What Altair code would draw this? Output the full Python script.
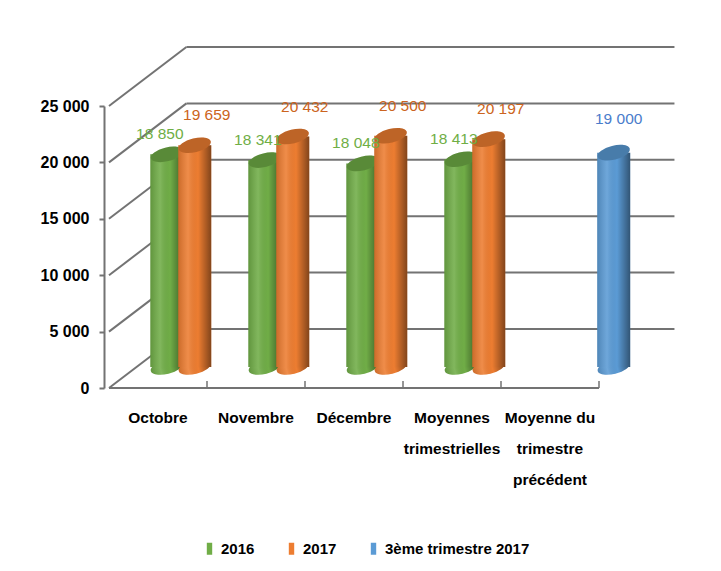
import altair as alt
import pandas as pd

# ---------------- data ----------------
categories = ["Octobre", "Novembre", "Décembre", "Moyennes\ntrimestrielles",
              "Moyenne du\ntrimestre\nprécédent"]
series = ["2016", "2017", "3ème trimestre 2017"]
values_2016 = [18850, 18341, 18048, 18413, None]
values_2017 = [19659, 20432, 20500, 20197, None]
values_t3 = [None, None, None, None, 19000]
y_ticks = [0, 5000, 10000, 15000, 20000, 25000]

bar_colors = ["#70AD47", "#ED7D31", "#5B9BD5"]
label_colors = ["#6FAE45", "#CC6420", "#4A7CCB"]

# ---------------- layout / style constants ----------------
FONT = "Liberation Sans, Arial, sans-serif"
GRID = "#737373"
DEPTH_X = 0.79          # back wall shift, in category units
DEPTH_PX = 59           # back wall shift, in pixels (upwards)
BACK_END = 5.77         # right end of back wall, category units
YSHIFT = -21            # cylinders sit a little inside the depth
BW = 33                 # cylinder width px
SLOT = {"2016": 0.09, "2017": 0.375, "3ème trimestre 2017": 0.65}
LBL_DX = {"2016": -7, "2017": 12, "3ème trimestre 2017": 5}
LBL_DY = {"2016": -41, "2017": -51, "3ème trimestre 2017": -55}

rows = []
for s, vals in zip(series, [values_2016, values_2017, values_t3]):
    for i, (c, v) in enumerate(zip(categories, vals)):
        if v is None:
            continue
        rows.append({"cat": c, "series": s, "v": v,
                     "pos": i + 0.5 + SLOT[s],
                     "label": f"{v:,}".replace(",", " ")})
df = pd.DataFrame(rows)
cats_df = pd.DataFrame({"cat": categories,
                        "center": [i + 0.5 for i in range(len(categories))]})
frame_df = pd.DataFrame({"v": y_ticks})
floor_df = pd.DataFrame({"v": [y_ticks[0]]})
bound_df = pd.DataFrame({"b": list(range(1, len(categories) + 1))})

xscale = alt.Scale(domain=[0, len(categories)], nice=False, zero=False)
yscale = alt.Scale(domain=[0, 25000], nice=False, zero=True)
YAX = alt.Axis(values=y_ticks, title=None, grid=False, domain=True,
               domainColor=GRID, domainWidth=2, ticks=True, tickSize=5,
               tickColor=GRID, tickWidth=2, labelFont=FONT, labelFontSize=16,
               labelFontWeight="bold", labelColor="black", labelPadding=10,
               labelExpr="replace(format(datum.value, ','), ',', ' ')")


def X(f):
    return alt.X(f, type="quantitative", scale=xscale, axis=None)


def Y(f="v"):
    return alt.Y(f, type="quantitative", scale=yscale, axis=YAX)


RECT = "M-0.45,-1L0.45,-1L0.45,1L-0.45,1Z"
ELL = "M-1,0A1,0.42,0,1,0,1,0A1,0.42,0,1,0,-1,0Z"
LEGEND = alt.Legend(title=None, orient="none", legendX=98, legendY=435,
                    direction="horizontal", columns=3, symbolType=RECT,
                    symbolSize=144, symbolStrokeWidth=0, labelFont=FONT,
                    labelFontSize=15, labelFontWeight="bold",
                    labelColor="black", columnPadding=29, labelOffset=4,
                    labelLimit=300)
COLOR = alt.Color("series:N", scale=alt.Scale(domain=series, range=bar_colors),
                  legend=LEGEND)

GRAD = {"gradient": "linear", "x1": 0, "x2": 1, "y1": 0, "y2": 0,
        "stops": [{"offset": 0, "color": "rgba(0,0,0,0.14)"},
                  {"offset": 0.3, "color": "rgba(255,255,255,0.12)"},
                  {"offset": 0.6, "color": "rgba(0,0,0,0)"},
                  {"offset": 1, "color": "rgba(0,0,0,0.45)"}]}

# ---------------- frame ----------------
diag = alt.Chart(frame_df).mark_rule(color=GRID, strokeWidth=2,
                                     y2Offset=-DEPTH_PX).encode(
    x=alt.datum(0), x2=alt.datum(DEPTH_X), y=Y(), y2=alt.Y2("v"))
back = alt.Chart(frame_df).mark_rule(color=GRID, strokeWidth=2,
                                     yOffset=-DEPTH_PX,
                                     y2Offset=-DEPTH_PX).encode(
    x=alt.datum(DEPTH_X), x2=alt.datum(BACK_END), y=Y(), y2=alt.Y2("v"))
floor = alt.Chart(floor_df).mark_rule(color=GRID, strokeWidth=2).encode(
    x=alt.datum(0), x2=alt.datum(len(categories)), y=Y(), y2=alt.Y2("v"))
bticks = alt.Chart(bound_df).mark_rule(color=GRID, strokeWidth=1.5,
                                       y2Offset=-7).encode(
    x=X("b"), y=alt.datum(0), y2=alt.datum(0))

layers = [diag, back, floor, bticks]

# ---------------- cylinders ----------------
for s in series:
    base = alt.Chart(df).transform_filter(alt.datum.series == s)
    bottom = base.mark_point(shape=ELL, size=BW * BW, filled=True, opacity=1,
                             strokeWidth=0, yOffset=YSHIFT, angle=346).encode(
        x=X("pos"), y=alt.datum(0), color=COLOR)
    bottom_sh = base.mark_point(shape=ELL, size=BW * BW, filled=True,
                                opacity=1, strokeWidth=0, fill=GRAD,
                                yOffset=YSHIFT, angle=346).encode(
        x=X("pos"), y=alt.datum(0))
    body = base.mark_bar(width=BW, yOffset=YSHIFT, y2Offset=YSHIFT).encode(
        x=X("pos"), y=Y(), y2=alt.datum(0), color=COLOR)
    body_sh = base.mark_bar(width=BW, yOffset=YSHIFT, y2Offset=YSHIFT,
                            fill=GRAD).encode(
        x=X("pos"), y=Y(), y2=alt.datum(0))
    top = base.mark_point(shape=ELL, size=BW * BW, filled=True, opacity=1,
                          strokeWidth=0, yOffset=YSHIFT, angle=346).encode(
        x=X("pos"), y=Y(), color=COLOR)
    top_sh = base.mark_point(shape=ELL, size=BW * BW, filled=True, opacity=1,
                             fill="black", fillOpacity=0.2, strokeWidth=0,
                             yOffset=YSHIFT, angle=346).encode(
        x=X("pos"), y=Y())
    layers += [bottom, bottom_sh, body, body_sh, top, top_sh]

# ---------------- value labels ----------------
for k, s in enumerate(series):
    lbl = alt.Chart(df).transform_filter(alt.datum.series == s).mark_text(
        font=FONT, fontSize=15.5, color=label_colors[k], dx=LBL_DX[s],
        dy=LBL_DY[s], baseline="middle", align="center").encode(
        x=X("pos"), y=Y(), text="label:N")
    layers.append(lbl)

# ---------------- category labels ----------------
cat_lbl = alt.Chart(cats_df).mark_text(
    font=FONT, fontSize=15.5, fontWeight="bold", color="black",
    baseline="top", align="center", dy=23, lineBreak="\n",
    lineHeight=31).encode(x=X("center"), y=alt.datum(0), text="cat:N")
layers.append(cat_lbl)

chart = alt.layer(*layers).properties(
    width=500, height=282,
    autosize=alt.AutoSizeParams(type="none"),
    padding={"left": 96, "top": 98, "right": 100, "bottom": 175},
    background="white",
).configure_view(stroke=None).configure_axisX(disable=True)

chart.save("out.html", embed_options={"renderer": "svg", "actions": False})
